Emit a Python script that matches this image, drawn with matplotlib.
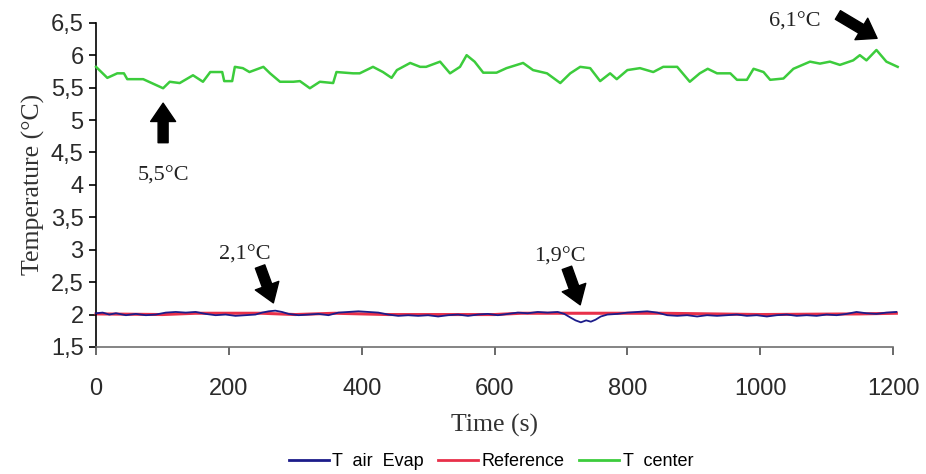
import matplotlib
matplotlib.use("Agg")
import matplotlib.pyplot as plt
from matplotlib.lines import Line2D

# ---- data ----
t_evap = [0, 10, 20, 30, 45, 60, 75, 90, 105, 120, 135, 150, 165, 180, 195, 210, 225, 240, 250, 260,
          270, 280, 290, 305, 320, 335, 350, 365, 380, 395, 410, 425, 440, 455, 470, 485, 500, 515, 530,
          545, 560, 575, 590, 605, 620, 635, 650, 665, 680, 695, 705, 715, 722, 730, 738, 745, 752, 760,
          770, 785, 800, 815, 830, 845, 860, 875, 890, 905, 920, 935, 950, 965, 980, 995, 1010, 1025,
          1040, 1055, 1070, 1085, 1100, 1115, 1130, 1145, 1160, 1175, 1190, 1205]
T_evap = [2.02, 2.03, 2.00, 2.02, 1.99, 2.01, 1.99, 2.00, 2.03, 2.04, 2.03, 2.04, 2.01, 1.99, 2.00, 1.98,
          1.99, 2.00, 2.03, 2.05, 2.06, 2.04, 2.01, 1.99, 2.00, 2.01, 1.99, 2.03, 2.04, 2.05, 2.04, 2.03,
          2.00, 1.98, 1.99, 1.98, 1.99, 1.97, 1.99, 2.00, 1.98, 2.00, 2.01, 1.99, 2.01, 2.03, 2.02, 2.04,
          2.03, 2.04, 2.01, 1.95, 1.91, 1.88, 1.91, 1.89, 1.92, 1.97, 2.00, 2.01, 2.03, 2.04, 2.05, 2.03,
          1.99, 1.98, 1.99, 1.97, 1.99, 1.98, 1.99, 2.00, 1.98, 1.99, 1.97, 1.99, 2.00, 1.98, 1.99, 1.98,
          2.00, 1.99, 2.01, 2.04, 2.02, 2.01, 2.03, 2.04]

t_ref = [0, 100, 150, 250, 300, 360, 440, 600, 640, 700, 800, 850, 1000, 1150, 1205]
T_ref = [2.01, 2.00, 2.02, 2.02, 2.00, 2.02, 2.00, 2.00, 2.02, 2.02, 2.02, 2.02, 2.00, 2.01, 2.02]

t_center = [0, 3, 17, 32, 42, 47, 71, 101, 111, 126, 146, 161, 172, 190, 193, 205, 209, 221, 231, 252,
            262, 277, 297, 307, 322, 337, 357, 362, 387, 397, 417, 432, 445, 453, 473, 488, 497, 518,
            533, 548, 558, 570, 583, 603, 618, 643, 658, 679, 699, 714, 729, 744, 759, 774, 784, 800,
            819, 839, 854, 875, 894, 909, 921, 935, 955, 965, 980, 990, 1005, 1015, 1035, 1050, 1075,
            1090, 1105, 1120, 1140, 1150, 1160, 1175, 1190, 1207]
T_center = [5.82, 5.79, 5.65, 5.72, 5.72, 5.63, 5.63, 5.49, 5.59, 5.57, 5.69, 5.59, 5.74, 5.74, 5.60,
            5.60, 5.82, 5.80, 5.74, 5.82, 5.72, 5.59, 5.59, 5.60, 5.49, 5.59, 5.57, 5.74, 5.72, 5.72,
            5.82, 5.74, 5.65, 5.77, 5.88, 5.82, 5.82, 5.90, 5.72, 5.82, 6.00, 5.90, 5.73, 5.73, 5.80,
            5.88, 5.77, 5.72, 5.57, 5.72, 5.82, 5.80, 5.60, 5.72, 5.63, 5.77, 5.80, 5.74, 5.82, 5.82,
            5.59, 5.72, 5.79, 5.72, 5.72, 5.62, 5.62, 5.79, 5.74, 5.62, 5.64, 5.79, 5.90, 5.87, 5.90,
            5.85, 5.92, 6.00, 5.92, 6.08, 5.90, 5.82]

labels = ["T  air  Evap", "Reference", "T  center"]
colors = ["#1c1c8a", "#e8304a", "#3ccc3c"]

x_ticks = [0, 200, 400, 600, 800, 1000, 1200]
y_ticks = [1.5, 2, 2.5, 3, 3.5, 4, 4.5, 5, 5.5, 6, 6.5]
y_ticklabels = ["1,5", "2", "2,5", "3", "3,5", "4", "4,5", "5", "5,5", "6", "6,5"]

# annotations: text, text pos, arrow tail, arrow tip
notes = [
    ("5,5°C", (101, 4.13), (101, 4.65), (101, 5.26)),
    ("6,1°C", (1052, 6.51), (1117, 6.62), (1176, 6.26)),
    ("2,1°C", (224, 2.92), (247, 2.74), (267, 2.18)),
    ("1,9°C", (699, 2.89), (709, 2.72), (729, 2.15)),
]

# ---- figure ----
fig = plt.figure(figsize=(9.26, 4.74), dpi=100)
ax = fig.add_axes([0.1037, 0.268, 0.8607, 0.684])

ax.plot(t_ref, T_ref, color=colors[1], lw=2.2, clip_on=False, zorder=2)
ax.plot(t_evap, T_evap, color=colors[0], lw=1.3, clip_on=False, zorder=3)
ax.plot(t_center, T_center, color=colors[2], lw=1.8, clip_on=False, zorder=3)

ax.set_xlim(0, 1200)
ax.set_ylim(1.5, 6.5)
ax.set_xticks(x_ticks)
ax.set_yticks(y_ticks)
ax.set_yticklabels(y_ticklabels)

for s in ["top", "right"]:
    ax.spines[s].set_visible(False)
ax.spines["left"].set_color("black")
ax.spines["left"].set_linewidth(1.2)
ax.spines["bottom"].set_color("#707070")
ax.spines["bottom"].set_linewidth(1.2)
ax.tick_params(axis="y", direction="out", length=5, width=1.2, color="black",
               labelsize=17, pad=4)
ax.tick_params(axis="x", direction="out", length=6, width=1.2, color="#505050",
               labelsize=17, pad=16)
for lab in ax.get_xticklabels() + ax.get_yticklabels():
    lab.set_fontfamily("Liberation Sans")
    lab.set_color("#2a2a2a")

ax.set_xlabel("Time (s)", fontsize=18.5, family="Liberation Serif", color="#333333", labelpad=10)
ax.set_ylabel("Temperature (°C)", fontsize=18.5, family="Liberation Serif", color="#333333", labelpad=4)

for txt, tpos, tail, tip in notes:
    ax.text(tpos[0], tpos[1], txt, fontsize=16, family="Liberation Serif", color="#222222",
            ha="center", va="center", clip_on=False)
    ax.annotate("", xy=tip, xytext=tail, annotation_clip=False,
                arrowprops=dict(arrowstyle="simple,head_length=1.1,head_width=1.5,tail_width=0.6",
                                fc="black", ec="black", mutation_scale=12, shrinkA=0, shrinkB=0))

handles = [Line2D([], [], color=c, lw=2) for c in colors]
fig.legend(handles, labels, loc="center", bbox_to_anchor=(491 / 926, 1 - 462 / 474), ncol=3,
           frameon=False, prop={"family": "Liberation Sans", "size": 13},
           handlelength=2.2, handletextpad=0.2, columnspacing=0.8)

fig.savefig("out.png", dpi=100)
